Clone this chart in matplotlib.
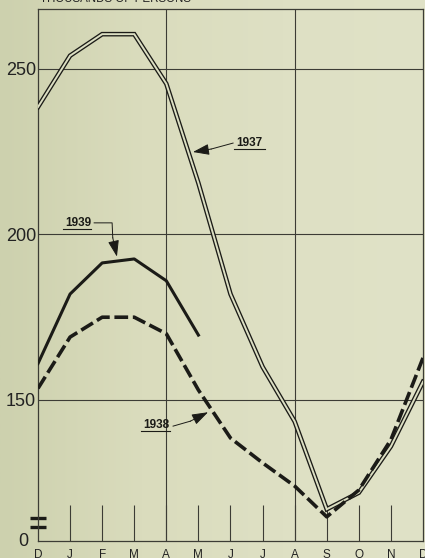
"""
Monthly persons (thousands), 1937-1939 -- replica of an old printed chart
"""

import numpy as np
import matplotlib
matplotlib.use('Agg')
from matplotlib import pyplot as plt

months = ['D', 'J', 'F', 'M', 'A', 'M', 'J', 'J', 'A', 'S', 'O', 'N', 'D']
y1937 = [238.5, 254, 260.5, 260.5, 245.5, 215.5, 182, 160, 143.5, 117, 122, 136, 155.5]
y1938 = [153.5, 169, 175, 175, 170, 153, 138.5, 131, 124, 114.7, 122.8, 138, 162.7]
y1939 = [161, 182, 191.4, 192.6, 186, 169.6]
ytick_vals = [150, 200, 250]
ytick_labels = ['150', '200', '250']
y_bottom, y_top = 107.4, 268.1  # bottom of the axis is the broken "0"

ink = '#1b1b17'
grid_ink = '#3c3c35'
paper = '#dcdfc1'

plt.rcParams['font.family'] = ['Liberation Sans', 'DejaVu Sans']

fig = plt.figure(figsize=(4.25, 5.58), dpi=100)
fig.patch.set_facecolor(paper)

# faint left-to-right paper gradient
bg = fig.add_axes([0, 0, 1, 1], zorder=-10)
grad = np.linspace(0, 1, 256).reshape(1, -1)
bg.imshow(grad, aspect='auto', extent=[0, 1, 0, 1],
          cmap=matplotlib.colors.LinearSegmentedColormap.from_list(
              'paper', ['#cdd1ae', '#dadcbd', '#dee0c4', '#e0e2c7']))
bg.axis('off')

ax = fig.add_axes([38 / 425, 1 - 541 / 558, 385 / 425, 532 / 558])
ax.set_facecolor('none')
x = np.arange(len(months))
ax.set_xlim(0, 12)
ax.set_ylim(y_bottom, y_top)

# grid: every 50 thousand and every 4 months
for v in ytick_vals:
    ax.axhline(v, color=grid_ink, lw=0.8, zorder=1)
for m in (4, 8):
    ax.axvline(m, color=grid_ink, lw=0.8, zorder=1)
for s in ax.spines.values():
    s.set_color(grid_ink)
    s.set_linewidth(0.9)

# short month ticks at the foot
ax.vlines(x[1:-1], 0, 0.068, transform=ax.get_xaxis_transform(),
          color=grid_ink, lw=0.8, zorder=1)

# 1937 -- hollow double line
ax.plot(x, y1937, color=ink, lw=3.3, solid_joinstyle='miter', zorder=3)
ax.plot(x, y1937, color='#dcdfc3', lw=1.4, solid_joinstyle='miter', zorder=4)
# 1938 -- heavy dashes
ax.plot(x, y1938, color=ink, lw=2.6, dashes=(3.8, 1.3), zorder=5)
# 1939 -- heavy solid, ends in May
ax.plot(x[:len(y1939)], y1939, color=ink, lw=2.2, zorder=5)

# axis labels
ax.set_yticks(ytick_vals)
ax.set_yticklabels(ytick_labels, fontsize=13)
ax.tick_params(axis='y', length=0, pad=1.5, colors='#222222')
ax.set_xticks(x)
ax.set_xticklabels(months, fontsize=8.5)
ax.tick_params(axis='x', length=0, pad=5.5, colors='#222222')
ax.text(-0.024, 0, '0', transform=ax.transAxes, ha='right', va='center',
        fontsize=13, color='#222222')

# axis break marks
for yb in (0.0432, 0.0263):
    ax.plot([-0.021, 0.021], [yb, yb], transform=ax.transAxes, color=ink,
            lw=2.4, solid_capstyle='butt', clip_on=False)

# heading, cut by the top edge as in the scan
fig.text(40 / 425, 1 - 5 / 558, 'THOUSANDS OF PERSONS', ha='left', va='bottom',
         fontsize=8.3, color='#222222')


def label(txt, xt, yt, w):
    ax.text(xt, yt, txt, fontsize=8.5, fontweight='bold', ha='left',
            va='center', color=ink, zorder=6)
    ax.plot([xt - 0.06, xt + w], [yt - 1.9, yt - 1.9], color=ink, lw=0.8, zorder=6)


def pointer(path, tip):
    ax.plot([p[0] for p in path], [p[1] for p in path], color=ink, lw=0.7, zorder=6)
    ax.annotate('', xy=tip, xytext=path[-1],
                arrowprops=dict(arrowstyle='-|>,head_length=1.0,head_width=0.34',
                                color=ink, lw=0.7, shrinkA=0, shrinkB=0),
                zorder=6)


label('1937', 6.17, 227.6, 0.9)
pointer([(6.08, 227.6), (5.40, 225.8)], (4.83, 224.9))

label('1939', 0.84, 203.5, 0.8)
pointer([(1.75, 203.5), (2.31, 203.5), (2.33, 199.0)], (2.46, 193.3))

label('1938', 3.27, 142.4, 0.85)
pointer([(4.21, 142.1), (4.75, 143.6)], (5.3, 146.3))

fig.savefig('out.png', dpi=100, facecolor=fig.get_facecolor())
